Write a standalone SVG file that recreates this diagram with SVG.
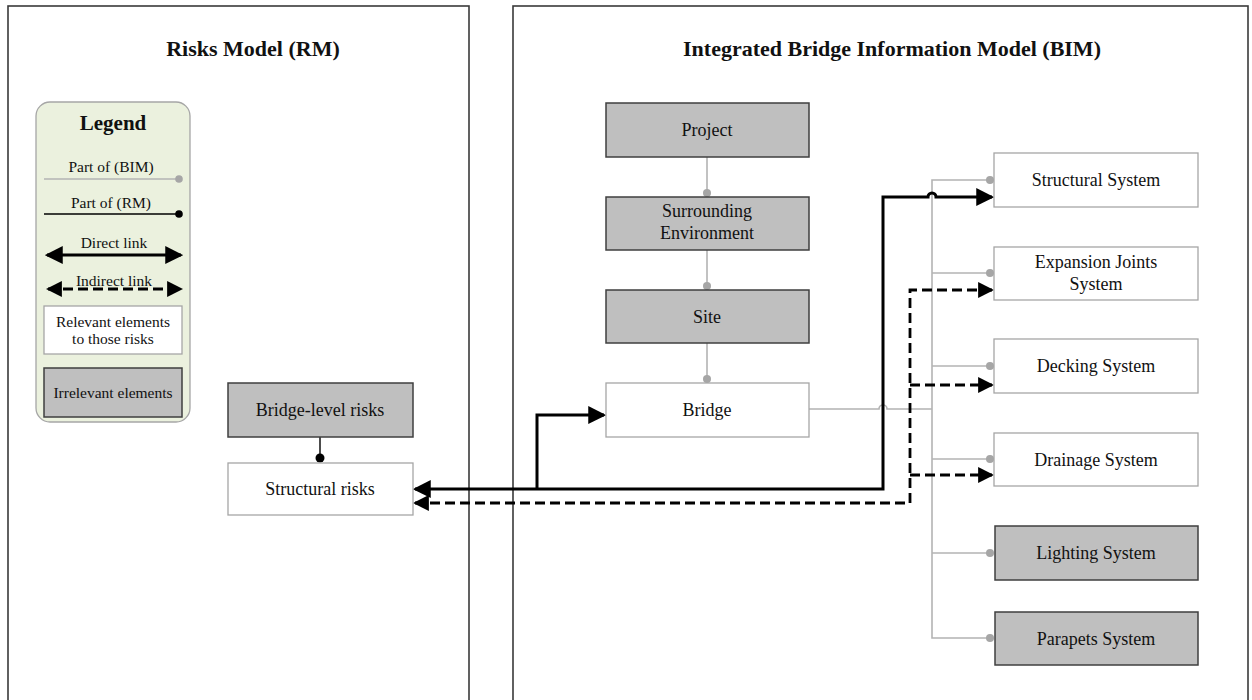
<svg xmlns="http://www.w3.org/2000/svg" width="1252" height="700" viewBox="0 0 1252 700">
<style>
text{font-family:"Liberation Serif","Times New Roman",serif;fill:#111;text-anchor:middle}
.title{font-size:22px;font-weight:bold}
.lbl{font-size:18px}
.lg{font-size:15.5px}
.frame{fill:none;stroke:#3a3a3a;stroke-width:1.6}
.white{fill:#fff;stroke:#a6a6a6;stroke-width:1.3}
.gray{fill:#bfbfbf;stroke:#3f3f3f;stroke-width:1.5}
.gl{fill:none;stroke:#b3b3b3;stroke-width:1.6}
.gd{fill:#a6a6a6}
.solid{fill:none;stroke:#000;stroke-width:3}
.dash{fill:none;stroke:#000;stroke-width:2.8;stroke-dasharray:10 5}
</style>
<defs>
<marker id="ah" markerUnits="userSpaceOnUse" markerWidth="18" markerHeight="18" refX="14" refY="8" orient="auto-start-reverse" viewBox="0 0 16 16">
<path d="M0,0 L16,8 L0,16 z" fill="#000"/>
</marker>
<marker id="ahd" markerUnits="userSpaceOnUse" markerWidth="16" markerHeight="16" refX="13" refY="7.5" orient="auto-start-reverse" viewBox="0 0 15 15">
<path d="M0,0 L15,7.5 L0,15 z" fill="#000"/>
</marker>
</defs>
<rect width="1252" height="700" fill="#fff"/>

<g id="frame-rm">
<rect class="frame" x="8" y="6" width="461" height="710"/>
<text class="title" x="253" y="56">Risks Model (RM)</text>
</g>
<g id="frame-bim">
<rect class="frame" x="513" y="6" width="735" height="710"/>
<text class="title" x="892" y="56">Integrated Bridge Information Model (BIM)</text>
</g>

<g id="legend">
<rect x="36" y="102" width="154" height="320" rx="14" fill="#ebf1de" stroke="#a6a6a6" stroke-width="1.3"/>
<text x="113" y="130" style="font-size:21px;font-weight:bold">Legend</text>
<text class="lg" x="111" y="172">Part of (BIM)</text>
<line class="gl" x1="44" y1="179" x2="178" y2="179"/>
<circle class="gd" cx="179" cy="179" r="3.8"/>
<text class="lg" x="111" y="208">Part of (RM)</text>
<line x1="44" y1="214" x2="178" y2="214" stroke="#000" stroke-width="1.4"/>
<circle cx="179" cy="214" r="3.8" fill="#000"/>
<text class="lg" x="114" y="248">Direct link</text>
<line class="solid" x1="47" y1="255" x2="181" y2="255" marker-start="url(#ah)" marker-end="url(#ah)"/>
<text class="lg" x="114" y="286">Indirect link</text>
<line class="dash" x1="48" y1="289" x2="181" y2="289" marker-start="url(#ahd)" marker-end="url(#ahd)"/>
<rect class="white" x="44" y="306" width="138" height="48" stroke="#3f3f3f"/>
<text class="lg" x="113" y="327">Relevant elements</text>
<text class="lg" x="113" y="344">to those risks</text>
<rect class="gray" x="44" y="368" width="138" height="49"/>
<text class="lg" x="113" y="398">Irrelevant elements</text>
</g>

<g id="connectors">
<line class="gl" x1="707" y1="157" x2="707" y2="193"/>
<circle class="gd" cx="707" cy="193" r="4"/>
<line class="gl" x1="707" y1="250" x2="707" y2="286"/>
<circle class="gd" cx="707" cy="286" r="4"/>
<line class="gl" x1="707" y1="343" x2="707" y2="379"/>
<circle class="gd" cx="707" cy="379" r="4"/>
<path class="gl" d="M809 409 H879 A4 4 0 0 1 887 409 H932"/>
<path class="gl" d="M990 180 H932 V638 H990"/>
<line class="gl" x1="932" y1="273" x2="990" y2="273"/>
<line class="gl" x1="932" y1="366" x2="990" y2="366"/>
<line class="gl" x1="932" y1="459" x2="990" y2="459"/>
<line class="gl" x1="932" y1="553" x2="990" y2="553"/>
<circle class="gd" cx="990" cy="180" r="4"/>
<circle class="gd" cx="990" cy="273" r="4"/>
<circle class="gd" cx="990" cy="366" r="4"/>
<circle class="gd" cx="990" cy="459" r="4"/>
<circle class="gd" cx="990" cy="553" r="4"/>
<circle class="gd" cx="990" cy="638" r="4"/>
<line x1="320" y1="437" x2="320" y2="458" stroke="#000" stroke-width="1.4"/>
<circle cx="320" cy="458" r="4.5" fill="#000"/>
<path class="solid" d="M415 489 H883 V197 H928 A4 4 0 0 1 936 197 H992" marker-start="url(#ah)" marker-end="url(#ah)"/>
<path class="solid" d="M537 489 V415 H604" marker-end="url(#ah)"/>
<path class="dash" d="M415 503 H910 V290 H992" marker-start="url(#ahd)" marker-end="url(#ahd)"/>
<path class="dash" d="M910 385 H992" marker-end="url(#ahd)"/>
<path class="dash" d="M910 475 H992" marker-end="url(#ahd)"/>
</g>

<g id="bridge-level-risks">
<rect class="gray" x="228" y="383" width="185" height="54"/>
<text class="lbl" x="320" y="416">Bridge-level risks</text>
</g>
<g id="structural-risks">
<rect class="white" x="228" y="463" width="185" height="52"/>
<text class="lbl" x="320" y="495">Structural risks</text>
</g>

<g id="project">
<rect class="gray" x="606" y="103" width="203" height="54"/>
<text class="lbl" x="707" y="136">Project</text>
</g>
<g id="surrounding-environment">
<rect class="gray" x="606" y="197" width="203" height="53"/>
<text class="lbl" x="707" y="217">Surrounding</text>
<text class="lbl" x="707" y="239">Environment</text>
</g>
<g id="site">
<rect class="gray" x="606" y="290" width="203" height="53"/>
<text class="lbl" x="707" y="323">Site</text>
</g>
<g id="bridge">
<rect class="white" x="606" y="383" width="203" height="54"/>
<text class="lbl" x="707" y="416">Bridge</text>
</g>

<g id="structural-system">
<rect class="white" x="994" y="153" width="204" height="54"/>
<text class="lbl" x="1096" y="186">Structural System</text>
</g>
<g id="expansion-joints-system">
<rect class="white" x="994" y="247" width="204" height="53"/>
<text class="lbl" x="1096" y="268">Expansion Joints</text>
<text class="lbl" x="1096" y="290">System</text>
</g>
<g id="decking-system">
<rect class="white" x="994" y="339" width="204" height="54"/>
<text class="lbl" x="1096" y="372">Decking System</text>
</g>
<g id="drainage-system">
<rect class="white" x="994" y="433" width="204" height="53"/>
<text class="lbl" x="1096" y="466">Drainage System</text>
</g>
<g id="lighting-system">
<rect class="gray" x="995" y="526" width="203" height="54"/>
<text class="lbl" x="1096" y="559">Lighting System</text>
</g>
<g id="parapets-system">
<rect class="gray" x="995" y="612" width="203" height="53"/>
<text class="lbl" x="1096" y="645">Parapets System</text>
</g>
</svg>
